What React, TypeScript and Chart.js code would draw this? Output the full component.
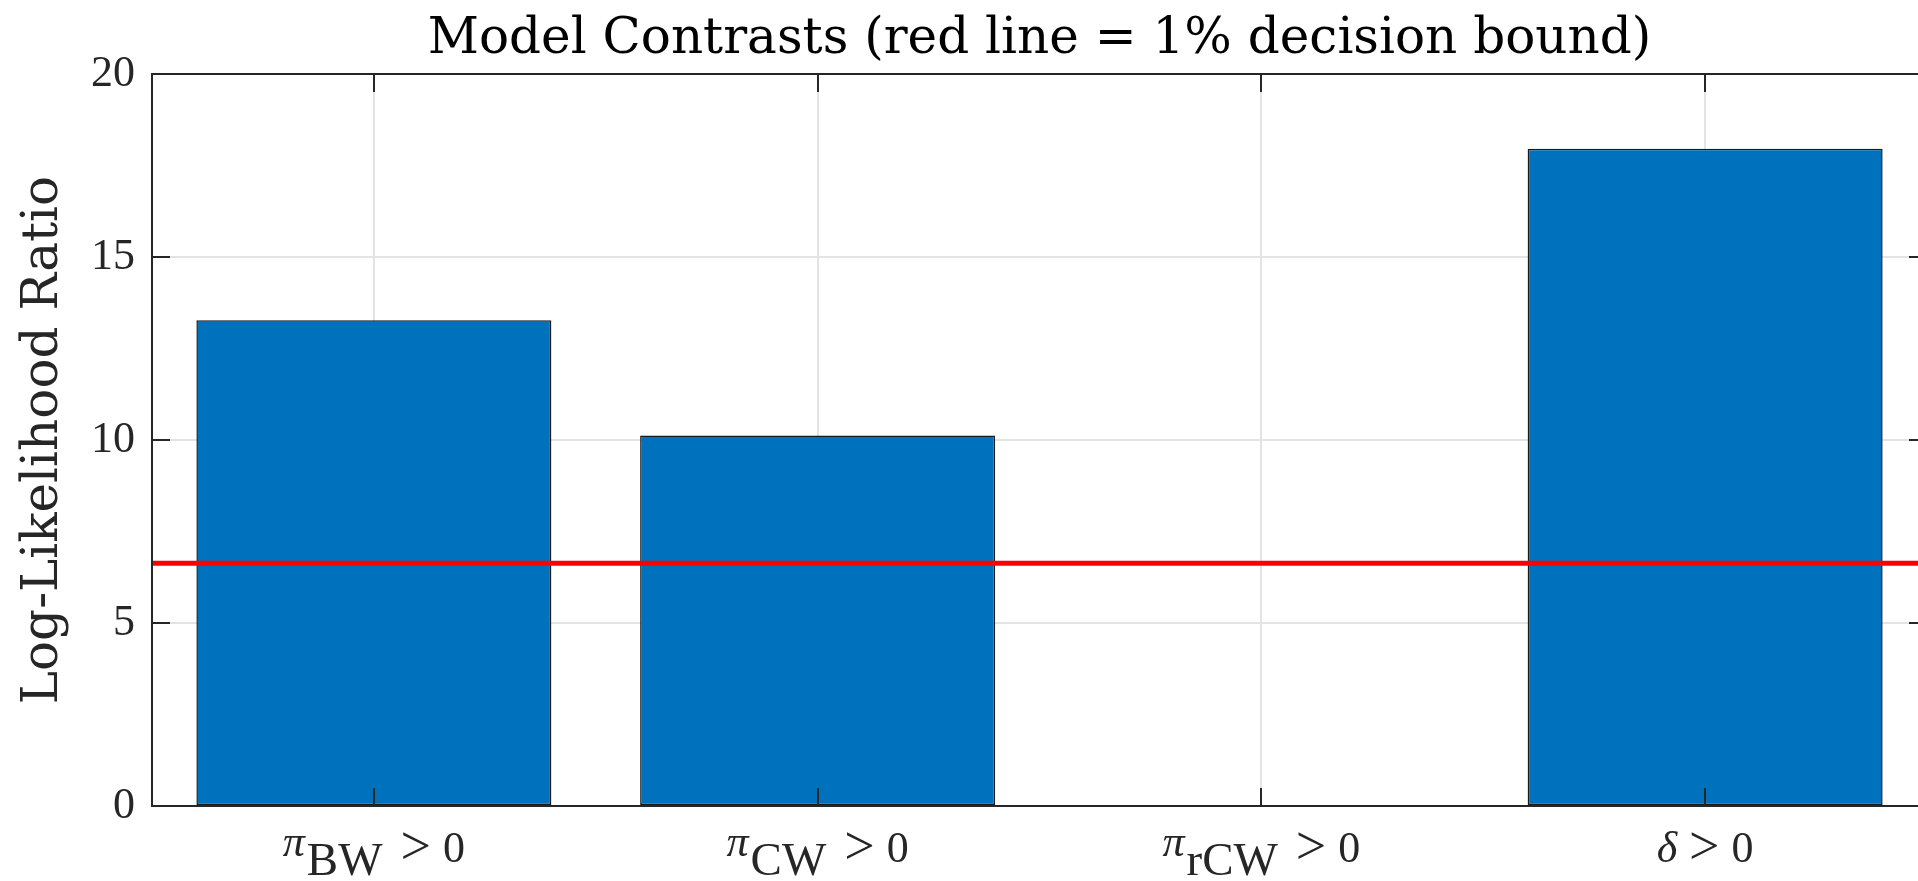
import React, { useEffect, useRef } from 'react';
import { Chart, registerables } from 'chart.js';

Chart.register(...registerables);

// ---- data ----
const categories = ['π_{BW} > 0', 'π_{CW} > 0', 'π_{rCW} > 0', 'δ > 0'];
const llrValues = [13.27, 10.12, 0, 17.96];
const boundX = [0.5, 4.5];
const boundY = [6.635, 6.635];
const yTickValues = [0, 5, 10, 15, 20];
const titleText = 'Model Contrasts (red line = 1% decision bound)';
const yLabelText = 'Log-Likelihood Ratio';

const AXIS_COLOR = '#262626';
const GRID_COLOR = '#e3e3e3';
const TEXT_FONT = '"Liberation Serif", "DejaVu Serif", serif';
const TITLE_FONT = '"DejaVu Serif", "Liberation Serif", serif';

function parseLabel(lab: string) {
  const m = lab.match(/^(.*?)_\{(.*?)\}(.*)$/);
  if (m) return { sym: m[1], sub: m[2], rest: m[3].trim() };
  const k = lab.indexOf(' ');
  return { sym: lab.slice(0, k), sub: '', rest: lab.slice(k).trim() };
}

const frameAndLabels = {
  id: 'frameAndLabels',
  afterDraw(chart: any) {
    const { ctx, chartArea } = chart;
    const { left, right, top, bottom } = chartArea;
    const xs = chart.scales.x;
    const ys = chart.scales.y;
    const tickLen = 18;
    ctx.save();
    ctx.strokeStyle = AXIS_COLOR;
    ctx.lineWidth = 2;
    ctx.beginPath();
    ctx.rect(left, top, right - left, bottom - top);
    ys.ticks.forEach((t: any) => {
      const py = Math.round(ys.getPixelForValue(t.value));
      ctx.moveTo(left, py);
      ctx.lineTo(left + tickLen, py);
      ctx.moveTo(right, py);
      ctx.lineTo(right - tickLen, py);
    });
    categories.forEach((_, i) => {
      const px = Math.round(xs.getPixelForTick(i));
      ctx.moveTo(px, bottom);
      ctx.lineTo(px, bottom - tickLen);
      ctx.moveTo(px, top);
      ctx.lineTo(px, top + tickLen);
    });
    ctx.stroke();

    // category labels with subscripts
    ctx.fillStyle = AXIS_COLOR;
    ctx.textBaseline = 'alphabetic';
    ctx.textAlign = 'left';
    const symFont = `italic 44px ${TEXT_FONT}`;
    const subFont = `47px ${TEXT_FONT}`;
    const restFont = `44px ${TEXT_FONT}`;
    const relFont = `54px ${TEXT_FONT}`;
    const tokGap = 12;
    const fontFor = (t: string) => (/^[<>=]$/.test(t) ? relFont : restFont);
    categories.forEach((lab, i) => {
      const cx = xs.getPixelForTick(i);
      const { sym, sub, rest } = parseLabel(lab);
      const toks = rest.split(/\s+/);
      ctx.font = symFont;
      const wSym = ctx.measureText(sym).width;
      ctx.font = subFont;
      const wSub = sub ? ctx.measureText(sub).width : 0;
      const wToks = toks.map((t) => {
        ctx.font = fontFor(t);
        return ctx.measureText(t).width;
      });
      const wRest = wToks.reduce((a, b) => a + b, 0) + tokGap * (toks.length - 1);
      const g1 = sub ? 2 : 0;
      const g2 = sub ? 18 : 12;
      const total = wSym + g1 + wSub + g2 + wRest;
      let x = cx - total / 2;
      ctx.font = symFont;
      ctx.fillText(sym, x, bottom + (sub ? 50 : 56));
      x += wSym + g1;
      if (sub) {
        ctx.font = subFont;
        ctx.fillText(sub, x, bottom + 69);
        x += wSub;
      }
      x += g2;
      toks.forEach((t, k) => {
        ctx.font = fontFor(t);
        ctx.fillText(t, x, bottom + (fontFor(t) === relFont ? 58 : 56));
        x += wToks[k] + tokGap;
      });
    });
    ctx.restore();
  },
};

export default function App() {
  const canvasRef = useRef<HTMLCanvasElement | null>(null);

  useEffect(() => {
    if (!canvasRef.current) return;
    const chart = new Chart(canvasRef.current, {
      type: 'bar',
      data: {
        labels: categories,
        datasets: [
          {
            type: 'line',
            label: 'Decision bound',
            data: boundX.map((x, i) => ({ x, y: boundY[i] })),
            xAxisID: 'x2',
            yAxisID: 'y',
            borderColor: '#ff0000',
            borderWidth: 5,
            pointRadius: 0,
            fill: false,
            order: 0,
          } as any,
          {
            type: 'bar',
            label: 'Log-Likelihood Ratio',
            data: llrValues,
            xAxisID: 'x',
            yAxisID: 'y',
            backgroundColor: '#0072BD',
            borderColor: '#1a1a1a',
            borderWidth: 1.5,
            borderSkipped: false,
            grouped: false,
            barPercentage: 0.8,
            categoryPercentage: 1.0,
            order: 1,
          } as any,
        ],
      },
      options: {
        animation: false,
        responsive: false,
        maintainAspectRatio: false,
        layout: { padding: { left: 0, right: 13, top: 0, bottom: 0 } },
        plugins: {
          legend: { display: false },
          tooltip: { enabled: false },
          title: {
            display: true,
            text: titleText,
            fullSize: false,
            color: '#000',
            font: { family: TITLE_FONT, size: 50, weight: 'normal', lineHeight: 1.2 },
            padding: { top: 10, bottom: 4 },
          },
        },
        scales: {
          x: {
            type: 'category',
            offset: true,
            grid: { offset: false, color: GRID_COLOR, lineWidth: 2, drawTicks: false },
            border: { display: false },
            ticks: { display: false },
            afterFit: (s: any) => { s.height = 75; },
          },
          x2: {
            type: 'linear',
            display: false,
            offset: false,
            grid: { offset: false },
            min: boundX[0],
            max: boundX[1],
          },
          y: {
            type: 'linear',
            min: yTickValues[0],
            max: yTickValues[yTickValues.length - 1],
            grid: { color: GRID_COLOR, lineWidth: 2, drawTicks: false },
            border: { display: false },
            ticks: {
              stepSize: 5,
              padding: 17,
              color: AXIS_COLOR,
              font: { family: TEXT_FONT, size: 44 },
            },
            title: {
              display: true,
              text: yLabelText,
              color: AXIS_COLOR,
              font: { family: TITLE_FONT, size: 50, weight: 'normal', lineHeight: 1.2 },
              padding: { top: 14, bottom: 0 },
            },
            afterFit: (s: any) => { s.width = 152; },
          },
        },
      } as any,
      plugins: [frameAndLabels],
    });
    return () => chart.destroy();
  }, []);

  return (
    <div
      style={{
        position: 'fixed',
        left: 0,
        top: 0,
        width: 1918,
        height: 881,
        overflow: 'hidden',
        background: '#fff',
      }}
    >
      <canvas ref={canvasRef} width={1940} height={881} style={{ display: 'block' }} />
    </div>
  );
}
